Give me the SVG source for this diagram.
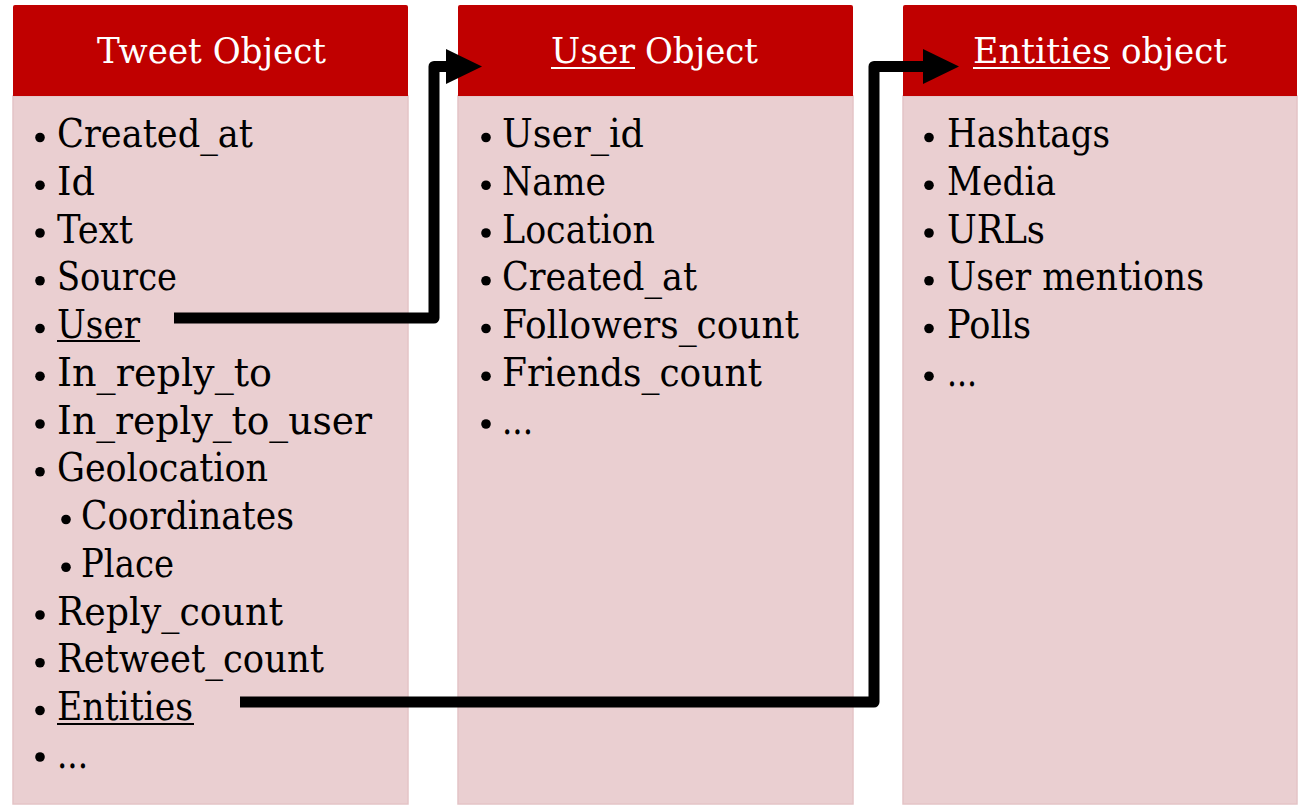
<svg xmlns="http://www.w3.org/2000/svg" width="1301" height="807" viewBox="0 0 1301 807">
  <style>
    .head { fill: #c00000; }
    .body { fill: #eacfd1; stroke: #e4c4c6; stroke-width: 1.5; }
    .title { font-family: "DejaVu Serif", "Liberation Serif", serif; font-size: 36px; fill: #ffffff; }
    .item { font-family: "DejaVu Serif", "Liberation Serif", serif; font-size: 38.5px; fill: #000000; }
    .dot { fill: #000000; }
    .ul-w { fill: #ffffff; }
    .ul-b { fill: #000000; }
    .link { fill: none; stroke: #000000; stroke-width: 11; stroke-linejoin: round; }
  </style>
  <defs>
    <marker id="arrow" markerUnits="userSpaceOnUse" markerWidth="36" markerHeight="36" refX="0" refY="17.5" orient="auto">
      <path d="M0,0 L36,17.5 L0,35 Z" fill="#000000"/>
    </marker>
  </defs>
  <rect width="1301" height="807" fill="#ffffff"/>

  <!-- Tweet object column -->
  <g id="tweet-object">
    <rect class="body" x="13" y="96" width="395" height="708"/>
    <path class="head" d="M15,5 H406 Q408,5 408,7 V96 H13 V7 Q13,5 15,5 Z"/>
    <text class="title" x="97" y="63" textLength="229" lengthAdjust="spacingAndGlyphs">Tweet Object</text>
    <g>
      <circle class="dot" cx="40" cy="137.5" r="4.8"/>
      <text class="item" x="57" y="147" textLength="196" lengthAdjust="spacingAndGlyphs">Created_at</text>
      <circle class="dot" cx="40" cy="185.25" r="4.8"/>
      <text class="item" x="57" y="194.75" textLength="38" lengthAdjust="spacingAndGlyphs">Id</text>
      <circle class="dot" cx="40" cy="233" r="4.8"/>
      <text class="item" x="57" y="242.5" textLength="76" lengthAdjust="spacingAndGlyphs">Text</text>
      <circle class="dot" cx="40" cy="280.75" r="4.8"/>
      <text class="item" x="57" y="290.25" textLength="120" lengthAdjust="spacingAndGlyphs">Source</text>
      <circle class="dot" cx="40" cy="328.5" r="4.8"/>
      <text class="item" x="57" y="338" textLength="83" lengthAdjust="spacingAndGlyphs">User</text>
      <rect class="ul-b" x="57" y="340" width="83" height="2"/>
      <circle class="dot" cx="40" cy="376.25" r="4.8"/>
      <text class="item" x="57" y="385.75" textLength="215" lengthAdjust="spacingAndGlyphs">In_reply_to</text>
      <circle class="dot" cx="40" cy="424" r="4.8"/>
      <text class="item" x="57" y="433.5" textLength="315" lengthAdjust="spacingAndGlyphs">In_reply_to_user</text>
      <circle class="dot" cx="40" cy="471.75" r="4.8"/>
      <text class="item" x="57" y="481.25" textLength="211" lengthAdjust="spacingAndGlyphs">Geolocation</text>
      <circle class="dot" cx="66" cy="519.5" r="4.8"/>
      <text class="item" x="81" y="529" textLength="213" lengthAdjust="spacingAndGlyphs">Coordinates</text>
      <circle class="dot" cx="66" cy="567.25" r="4.8"/>
      <text class="item" x="81" y="576.75" textLength="93" lengthAdjust="spacingAndGlyphs">Place</text>
      <circle class="dot" cx="40" cy="615" r="4.8"/>
      <text class="item" x="57" y="624.5" textLength="226" lengthAdjust="spacingAndGlyphs">Reply_count</text>
      <circle class="dot" cx="40" cy="662.75" r="4.8"/>
      <text class="item" x="57" y="672.25" textLength="267" lengthAdjust="spacingAndGlyphs">Retweet_count</text>
      <circle class="dot" cx="40" cy="710.5" r="4.8"/>
      <text class="item" x="57" y="720" textLength="136" lengthAdjust="spacingAndGlyphs">Entities</text>
      <rect class="ul-b" x="57" y="723" width="137" height="2"/>
      <circle class="dot" cx="40" cy="757" r="4.8"/>
      <text class="item" x="57" y="768" textLength="31" lengthAdjust="spacingAndGlyphs">...</text>
    </g>
  </g>

  <!-- User object column -->
  <g id="user-object">
    <rect class="body" x="458" y="96" width="395" height="708"/>
    <path class="head" d="M460,5 H851 Q853,5 853,7 V96 H458 V7 Q458,5 460,5 Z"/>
    <text class="title" x="551" y="63" textLength="84" lengthAdjust="spacingAndGlyphs">User</text>
    <rect class="ul-w" x="551" y="67" width="84" height="2"/>
    <text class="title" x="645" y="63" textLength="113" lengthAdjust="spacingAndGlyphs">Object</text>
    <g>
      <circle class="dot" cx="486" cy="137.5" r="4.8"/>
      <text class="item" x="502" y="147" textLength="142" lengthAdjust="spacingAndGlyphs">User_id</text>
      <circle class="dot" cx="486" cy="185.25" r="4.8"/>
      <text class="item" x="502" y="194.75" textLength="104" lengthAdjust="spacingAndGlyphs">Name</text>
      <circle class="dot" cx="486" cy="233" r="4.8"/>
      <text class="item" x="502" y="242.5" textLength="153" lengthAdjust="spacingAndGlyphs">Location</text>
      <circle class="dot" cx="486" cy="280.75" r="4.8"/>
      <text class="item" x="502" y="290.25" textLength="195" lengthAdjust="spacingAndGlyphs">Created_at</text>
      <circle class="dot" cx="486" cy="328.5" r="4.8"/>
      <text class="item" x="502" y="338" textLength="297" lengthAdjust="spacingAndGlyphs">Followers_count</text>
      <circle class="dot" cx="486" cy="376.25" r="4.8"/>
      <text class="item" x="502" y="385.75" textLength="260" lengthAdjust="spacingAndGlyphs">Friends_count</text>
      <circle class="dot" cx="486" cy="424" r="4.8"/>
      <text class="item" x="502" y="433.5" textLength="31" lengthAdjust="spacingAndGlyphs">...</text>
    </g>
  </g>

  <!-- Entities object column -->
  <g id="entities-object">
    <rect class="body" x="903" y="96" width="394" height="708"/>
    <path class="head" d="M905,5 H1295 Q1297,5 1297,7 V96 H903 V7 Q903,5 905,5 Z"/>
    <text class="title" x="973" y="63" textLength="137" lengthAdjust="spacingAndGlyphs">Entities</text>
    <rect class="ul-w" x="973" y="67" width="137" height="2"/>
    <text class="title" x="1121" y="63" textLength="106" lengthAdjust="spacingAndGlyphs">object</text>
    <g>
      <circle class="dot" cx="929" cy="137.5" r="4.8"/>
      <text class="item" x="947" y="147" textLength="163" lengthAdjust="spacingAndGlyphs">Hashtags</text>
      <circle class="dot" cx="929" cy="185.25" r="4.8"/>
      <text class="item" x="947" y="194.75" textLength="109" lengthAdjust="spacingAndGlyphs">Media</text>
      <circle class="dot" cx="929" cy="233" r="4.8"/>
      <text class="item" x="947" y="242.5" textLength="98" lengthAdjust="spacingAndGlyphs">URLs</text>
      <circle class="dot" cx="929" cy="280.75" r="4.8"/>
      <text class="item" x="947" y="290.25" textLength="257" lengthAdjust="spacingAndGlyphs">User mentions</text>
      <circle class="dot" cx="929" cy="328.5" r="4.8"/>
      <text class="item" x="947" y="338" textLength="84" lengthAdjust="spacingAndGlyphs">Polls</text>
      <circle class="dot" cx="929" cy="376.25" r="4.8"/>
      <text class="item" x="947" y="385.75" textLength="30" lengthAdjust="spacingAndGlyphs">...</text>
    </g>
  </g>

  <!-- Links from fields to their objects -->
  <g id="connectors">
    <path class="link" d="M174,318 H434 V66.5 H446" marker-end="url(#arrow)"/>
    <path class="link" d="M240,702 H874 V66.5 H923" marker-end="url(#arrow)"/>
  </g>
</svg>
